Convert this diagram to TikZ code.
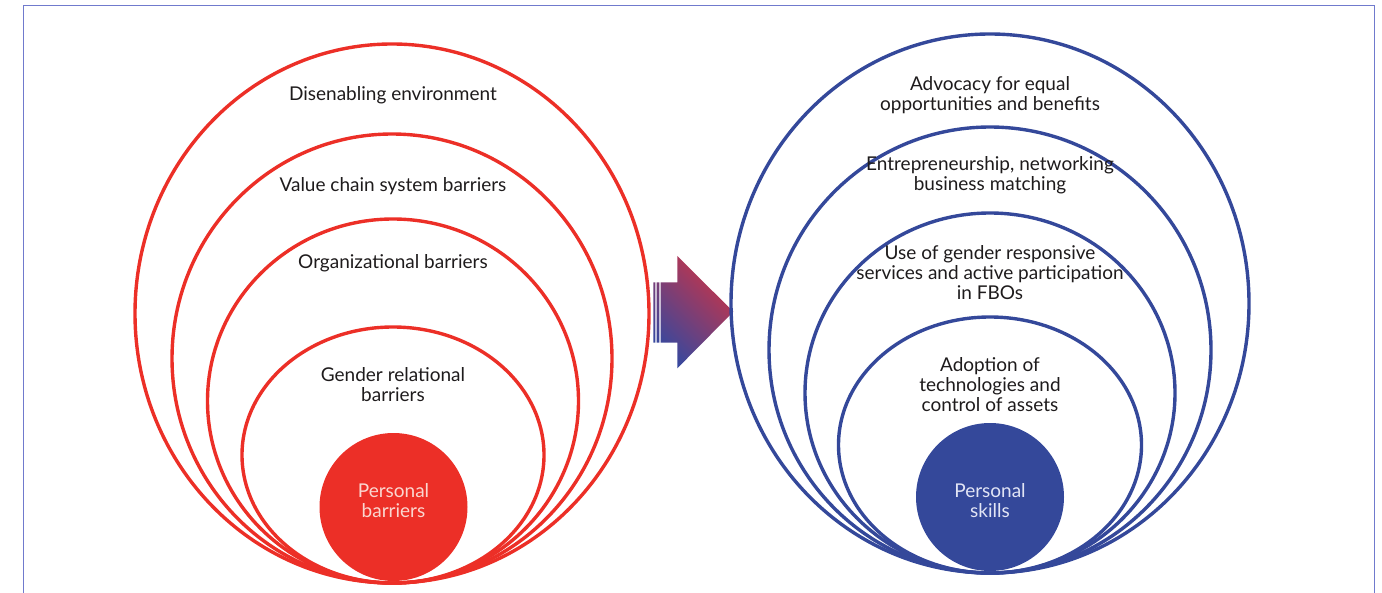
\documentclass[tikz,border=0pt]{standalone}
\usepackage{fontspec}
\setmainfont{Lato}
\usetikzlibrary{shapes.geometric}
\definecolor{barred}{RGB}{236,47,39}
\definecolor{skillblue}{RGB}{52,72,154}
\definecolor{inktext}{RGB}{30,27,28}
\definecolor{framelilac}{RGB}{112,122,205}
\definecolor{arrowred}{RGB}{200,52,72}
\definecolor{arrowblue}{RGB}{55,72,158}
\tikzset{
    red-ring/.style = {ellipse, draw=barred, line width=1.7pt, inner sep=0pt},
    blue-ring/.style = {ellipse, draw=skillblue, line width=1.7pt, inner sep=0pt},
    ring-text/.style = {text=inktext, font=\fontsize{9.5}{10}\selectfont, align=center, inner sep=0pt},
    core/.style = {circle, inner sep=0pt, minimum size=74pt},
    core-text/.style = {align=center, inner sep=0pt, font=\fontsize{9.5}{10}\selectfont},
}

\begin{document}
\begin{tikzpicture}[x=0.5pt, y=-0.5pt]
\useasboundingbox (0,0) rectangle (1382,593);
% frame, open at the bottom
\draw[framelilac, line width=0.7pt] (23.5,593) -- (23.5,5.5) -- (1374.5,5.5) -- (1374.5,593);

% barriers
\node[red-ring, minimum width=257pt, minimum height=269.5pt] (env) at (392,313.5) {};
\node[red-ring, minimum width=220pt, minimum height=224.5pt] (chain) at (392,358.5) {};
\node[red-ring, minimum width=185.5pt, minimum height=182pt] (org) at (393,401) {};
\node[red-ring, minimum width=151pt, minimum height=128pt] (gender) at (393,455) {};
\node[core, fill=barred] (pbar) at (393.5,507) {};
\node[core-text, text={rgb,255:red,250;green,215;blue,208}] (pbartext) at (393.5,501) {Personal\\barriers};
\node[ring-text] (envtext) at (393,95) {Disenabling environment};
\node[ring-text] (chaintext) at (393,186) {Value chain system barriers};
\node[ring-text] (orgtext) at (393,263) {Organizational barriers};
\node[ring-text] (gendertext) at (393,385) {Gender relational\\barriers};

% arrow
\shade[top color=arrowred, bottom color=arrowblue, shading angle=-45]
    (653.3,282.3) rectangle (655.3,342.7)
    (656.7,282.3) rectangle (659.3,342.7)
    (660.7,282.3) -- (677.3,282.3) -- (677.3,256) -- (733.3,311.7)
    -- (677.3,368.3) -- (677.3,342.7) -- (660.7,342.7) -- cycle;

% skills
\node[blue-ring, minimum width=259pt, minimum height=269.5pt] (adv) at (990,303.5) {};
\node[blue-ring, minimum width=221pt, minimum height=223pt] (entr) at (990,350) {};
\node[blue-ring, minimum width=185pt, minimum height=180pt] (serv) at (990,393) {};
\node[blue-ring, minimum width=151.5pt, minimum height=128pt] (tech) at (990,445) {};
\node[core, fill=skillblue] (pskill) at (990,497) {};
\node[core-text, text={rgb,255:red,226;green,229;blue,245}] (pskilltext) at (990,501) {Personal\\skills};
\node[ring-text] (advtext) at (990,95) {Advocacy for equal\\opportunities and benefits};
\node[ring-text] (entrtext) at (990,175) {Entrepreneurship, networking\\business matching};
\node[ring-text] (servtext) at (990,273) {Use of gender responsive\\services and active participation\\in FBOs};
\node[ring-text] (techtext) at (990,385) {Adoption of\\technologies and\\control of assets};
\end{tikzpicture}
\end{document}
